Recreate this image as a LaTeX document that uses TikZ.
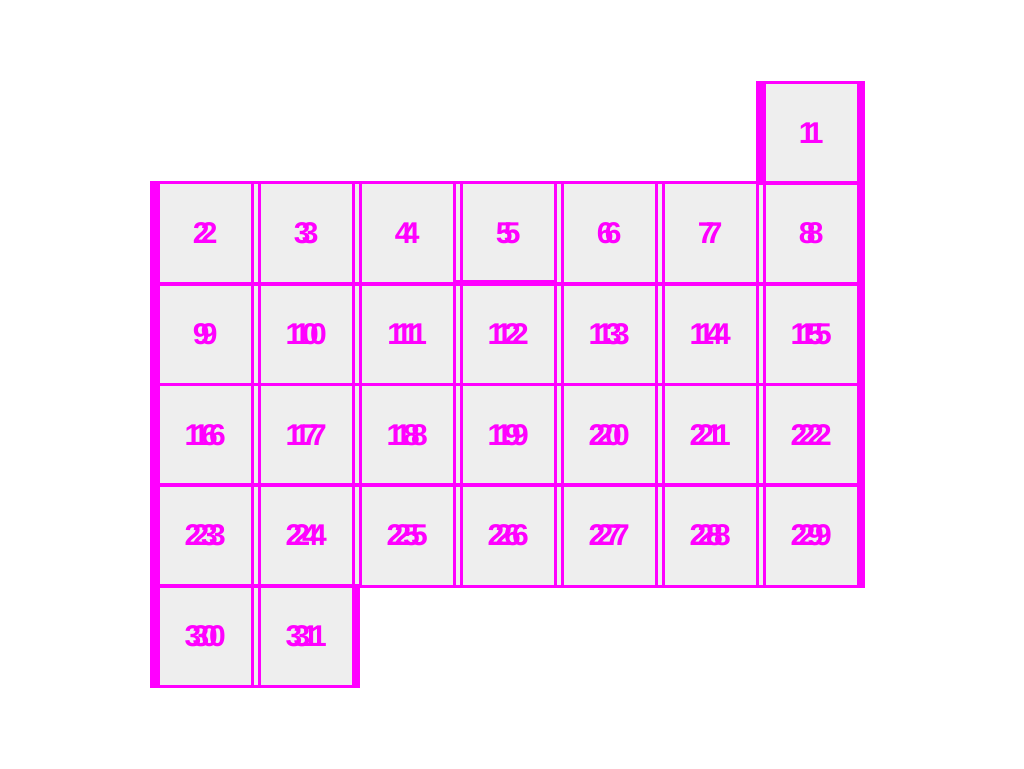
\documentclass[tikz,border=0pt]{standalone}
\usepackage{fontspec}
\setmainfont{Liberation Sans}
\definecolor{cellgray}{HTML}{EEEEEE}
\definecolor{daymag}{HTML}{FF00FF}
\newcommand{\daynumfont}{\fontsize{30}{30}\selectfont\bfseries}
\begin{document}
\begin{tikzpicture}[x=1pt,y=-1pt,
		cellbox/.style={fill=cellgray,minimum width=101pt,minimum height=100.67pt,inner sep=0pt,anchor=north west},
		gridline/.style={draw=daymag,line width=3pt},
		edgebar/.style={fill=daymag},
		daynum/.style={text=daymag,font=\daynumfont,inner sep=0pt}]
		\useasboundingbox (0,0) rectangle (1024,768);
		\foreach \n in {1,...,31}{
			\pgfmathtruncatemacro\c{mod(\n+5,7)}
			\pgfmathtruncatemacro\r{floor((\n+5)/7)}
			\node[cellbox] (cell\n) at ({151+101*\c},{82.3+100.67*\r}) {};
		}
		\foreach \n in {1,...,31}{
			\draw[gridline] (cell\n.north west) -- (cell\n.north east);
			\draw[gridline] (cell\n.south west) -- (cell\n.south east);
			\draw[gridline] (cell\n.north west) -- (cell\n.south west);
			\draw[gridline] ([xshift=7.5]cell\n.north west) -- ([xshift=7.5]cell\n.south west);
		}
		\foreach \n in {1,2,9,16,23,30}
			\fill[edgebar] ([xshift=-1,yshift=1.5]cell\n.north west) rectangle ([xshift=8,yshift=-1.5]cell\n.south west);
		\foreach \n in {1,8,15,22,29,31}
			\fill[edgebar] ([xshift=-1,yshift=1.5]cell\n.north east) rectangle ([xshift=7,yshift=-1.5]cell\n.south east);
		\draw[daymag,line width=1.5pt] ([xshift=1.5,yshift=1.7]cell5.north west) rectangle ([yshift=3]cell5.south east);
		\foreach \n in {1,...,31}{
			\node[daynum] (d\n) at ([xshift=-0.5]cell\n.center) {\n};
			\node[daynum] (e\n) at ([xshift=7.5]cell\n.center) {\n};
		}
		\end{tikzpicture}
\end{document}
